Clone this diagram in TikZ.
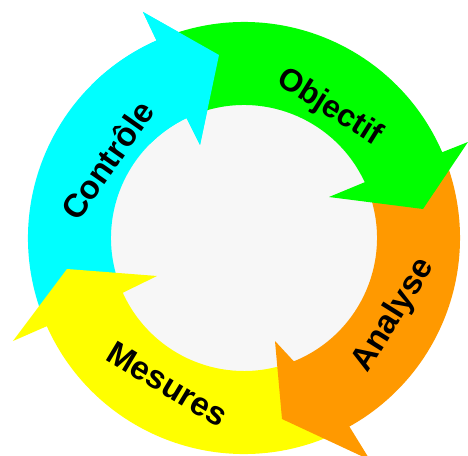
\documentclass[tikz,border=0pt]{standalone}
\usepackage{fontspec}
\setmainfont{Liberation Sans}
\definecolor{ccyan}{HTML}{00FFFF}
\definecolor{cgreen}{HTML}{00FF00}
\definecolor{corange}{HTML}{FF9900}
\definecolor{cyellow}{HTML}{FFFF00}
\definecolor{cinner}{HTML}{F7F7F7}
\tikzset{
  word/.style={anchor=base,inner sep=0pt,font=\fontsize{33}{33}\bfseries\selectfont},
  smallword/.style={anchor=base,inner sep=0pt,font=\fontsize{31.5}{33}\bfseries\selectfont}
}
\newcommand{\arrowband}[8]{% colour, outer start, outer end, tip1, apex, tip2, inner end, inner start
  \fill[#1] (#2:216pt) arc[start angle=#2,end angle=#3,radius=216pt] -- #4 -- #5 -- #6 -- (#7:133pt) arc[start angle=#7,end angle=#8,radius=133pt] -- cycle;}
\begin{document}
\begin{tikzpicture}[x=1pt,y=1pt]
\useasboundingbox (-244,-217) rectangle (224,238);
\clip (-244,-217) rectangle (224,238);
\fill[white] (-244,-217) rectangle (224,238);
\fill[cinner] (0,0) circle[radius=134pt];
% Cyan
\arrowband{ccyan}{200}{113.9}{(-101,226)}{(-25,183)}{(-44,93)}{115.6}{200}
% Yellow
\arrowband{cyellow}{-67}{-155.9}{(-231,-103)}{(-177,-31)}{(-87,-38)}{-155.7}{-74}
% Orange
\arrowband{corange}{19}{-60.8}{(126,-222)}{(38,-181)}{(31,-103)}{-68}{19}
% Green
\arrowband{cgreen}{108}{23.4}{(224,96)}{(179,29)}{(85,41)}{24.8}{108}
% Cyan head on top of the green tail
\arrowband{ccyan}{135}{113.9}{(-101,226)}{(-25,183)}{(-44,93)}{115.6}{135}
% Labels
\node[word,rotate=55] (controle) at (-127,71) {Contrôle};
\node[smallword,rotate=-32] (objectif) at (81,123.5) {Objectif};
\node[word,rotate=58] (analyse) at (157,-82) {Analyse};
\node[word,rotate=-31] (mesures) at (-82.5,-155.5) {Mesures};
\end{tikzpicture}
\end{document}
